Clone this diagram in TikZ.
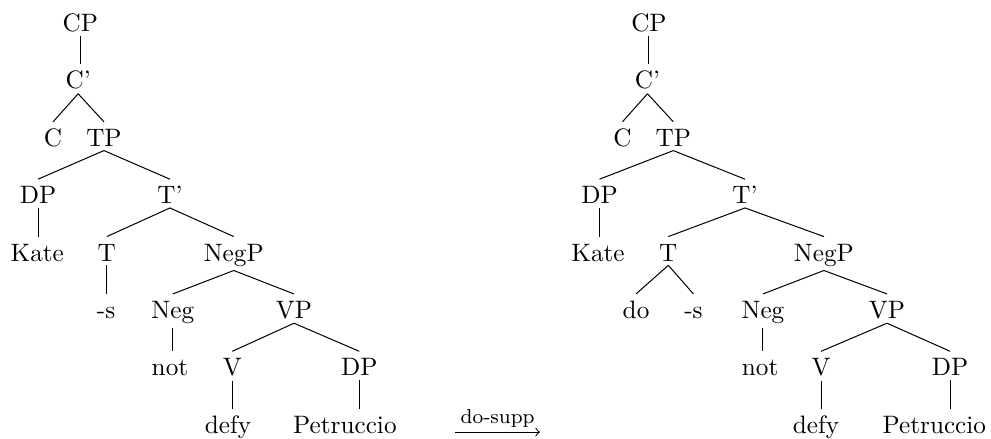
\documentclass[tikz,border=0pt]{standalone}
\usepackage{tikz}
\usetikzlibrary{arrows}

\begin{document}
\begin{tikzpicture}[>=to, thin,
	tree node/.style={anchor=base, inner sep=1.5pt, text height=8pt}]
	\useasboundingbox (0,0) rectangle (13.82,6.11);

	% tree before do-support
	\node[tree node] (lCP) at (1.12,5.67) {CP};
	\node[tree node] (lCbar) at (1.09,4.87) {C'};
	\node[tree node] (lC) at (0.74,4.07) {C};
	\node[tree node] (lTP) at (1.45,4.07) {TP};
	\node[tree node] (lDP) at (0.53,3.27) {DP};
	\node[tree node] (lTbar) at (2.37,3.27) {T'};
	\node[tree node] (lKate) at (0.52,2.47) {Kate};
	\node[tree node] (lT) at (1.49,2.47) {T};
	\node[tree node] (lNegP) at (3.26,2.47) {NegP};
	\node[tree node] (ls) at (1.48,1.67) {-s};
	\node[tree node] (lNeg) at (2.41,1.67) {Neg};
	\node[tree node] (lVP) at (4.10,1.67) {VP};
	\node[tree node] (lnot) at (2.37,0.87) {not};
	\node[tree node] (lV) at (3.24,0.87) {V};
	\node[tree node] (lObj) at (5.01,0.87) {DP};
	\node[tree node] (ldefy) at (3.18,0.07) {defy};
	\node[tree node] (lPetruccio) at (4.81,0.07) {Petruccio};

	\path[draw]
	(lCP.south) edge (lCP.south |- lCbar.north)
	(lCbar.south) edge (lC.north) edge (lTP.north)
	(lTP.south) edge (lDP.north) edge (lTbar.north)
	(lDP.south) edge (lDP.south |- lKate.north)
	(lTbar.south) edge (lT.north) edge (lNegP.north)
	(lT.south) edge (lT.south |- ls.north)
	(lNegP.south) edge (lNeg.north) edge (lVP.north)
	(lNeg.south) edge (lNeg.south |- lnot.north)
	(lVP.south) edge (lV.north) edge (lObj.north)
	(lV.south) edge (lV.south |- ldefy.north)
	(lObj.south) edge (lObj.south |- lPetruccio.north);

	% the rule in between
	\coordinate (arrs) at (6.35,0.084);
	\coordinate (arre) at (7.53,0.084);
	\draw[->] (arrs) -- (arre);
	\node[anchor=base, inner sep=0pt, font=\footnotesize] (supp) at (6.94,0.21) {do-supp};

	% tree after do-support
	\node[tree node] (rCP) at (9.05,5.67) {CP};
	\node[tree node] (rCbar) at (9.03,4.87) {C'};
	\node[tree node] (rC) at (8.68,4.07) {C};
	\node[tree node] (rTP) at (9.39,4.07) {TP};
	\node[tree node] (rDP) at (8.36,3.27) {DP};
	\node[tree node] (rTbar) at (10.39,3.27) {T'};
	\node[tree node] (rKate) at (8.34,2.47) {Kate};
	\node[tree node] (rT) at (9.32,2.47) {T};
	\node[tree node] (rNegP) at (11.49,2.47) {NegP};
	\node[tree node] (rdo) at (8.87,1.67) {do};
	\node[tree node] (rs) at (9.67,1.67) {-s};
	\node[tree node] (rNeg) at (10.64,1.67) {Neg};
	\node[tree node] (rVP) at (12.37,1.67) {VP};
	\node[tree node] (rnot) at (10.60,0.87) {not};
	\node[tree node] (rV) at (11.45,0.87) {V};
	\node[tree node] (rObj) at (13.25,0.87) {DP};
	\node[tree node] (rdefy) at (11.38,0.07) {defy};
	\node[tree node] (rPetruccio) at (13.03,0.07) {Petruccio};

	\path[draw]
	(rCP.south) edge (rCP.south |- rCbar.north)
	(rCbar.south) edge (rC.north) edge (rTP.north)
	(rTP.south) edge (rDP.north) edge (rTbar.north)
	(rDP.south) edge (rDP.south |- rKate.north)
	(rTbar.south) edge (rT.north) edge (rNegP.north)
	(rT.south) edge (rdo.north) edge (rs.north)
	(rNegP.south) edge (rNeg.north) edge (rVP.north)
	(rNeg.south) edge (rNeg.south |- rnot.north)
	(rVP.south) edge (rV.north) edge (rObj.north)
	(rV.south) edge (rV.south |- rdefy.north)
	(rObj.south) edge (rObj.south |- rPetruccio.north);
\end{tikzpicture}
\end{document}
